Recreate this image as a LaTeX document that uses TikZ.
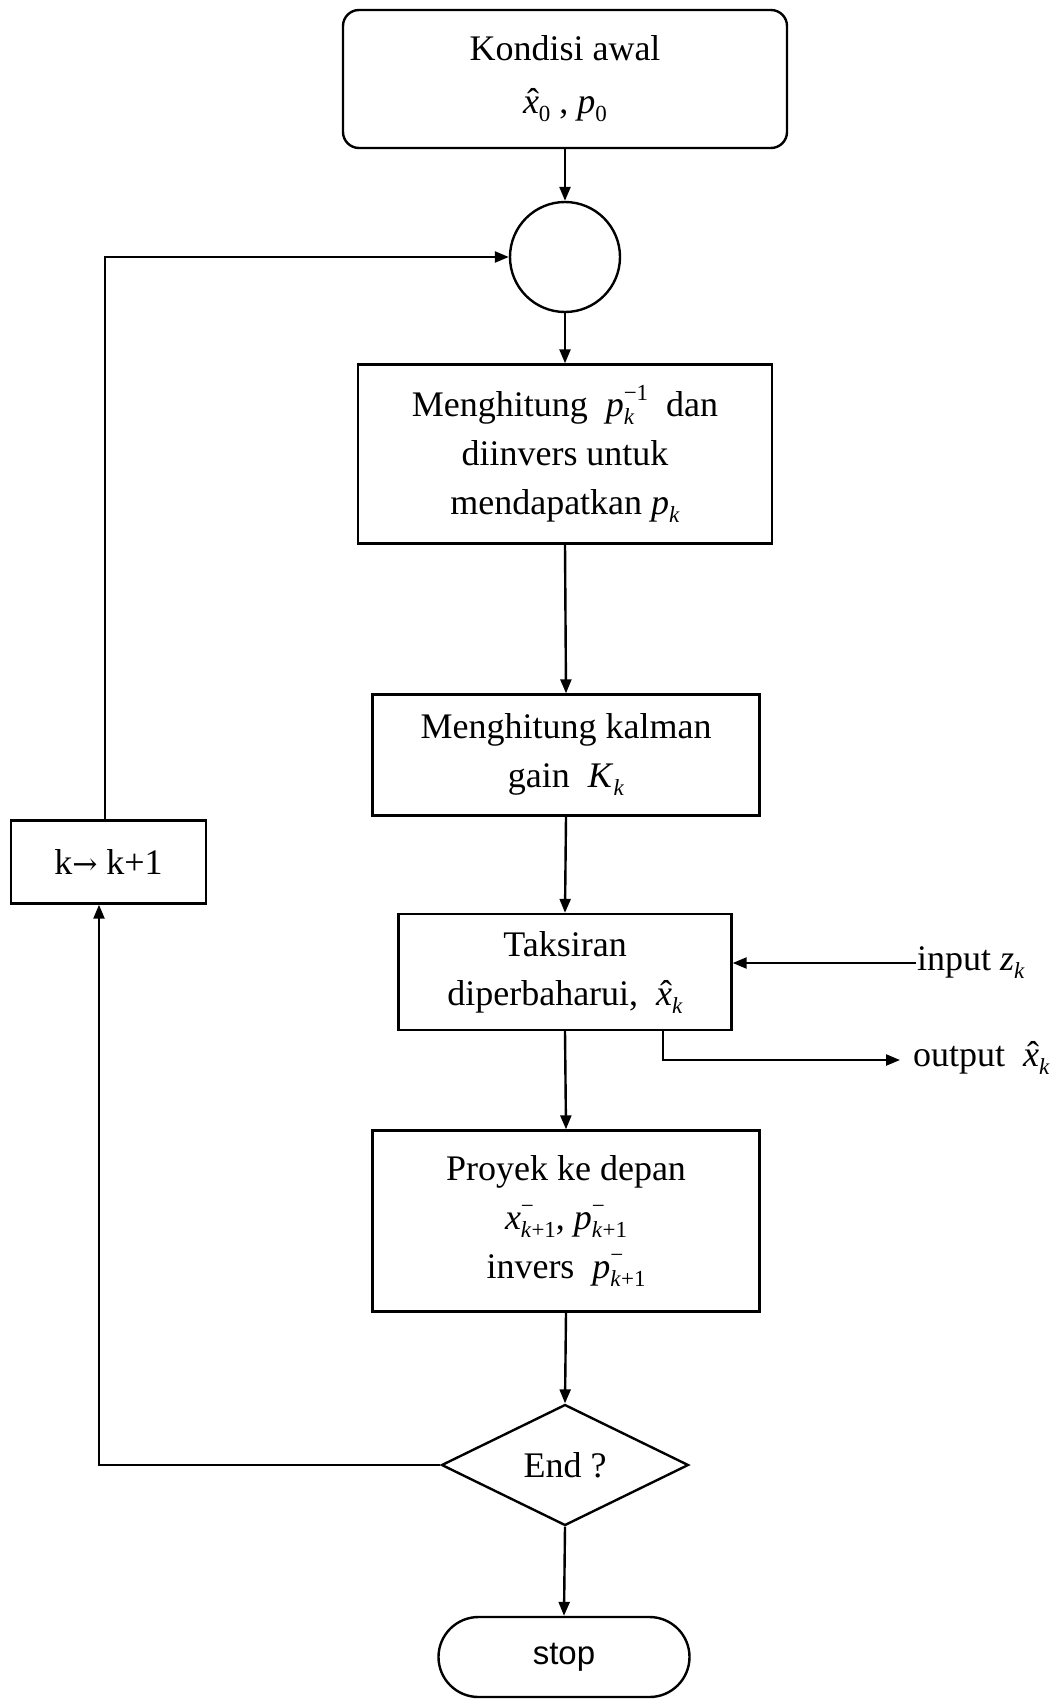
\documentclass[tikz,border=0pt]{standalone}
\usepackage{fontspec}
\setmainfont{Liberation Serif}
\newfontfamily\sansf{Liberation Sans}
\newfontfamily\dejav{DejaVu Serif}
\usetikzlibrary{shapes.geometric,shapes.misc,arrows.meta}
\newcommand{\ssz}{\fontsize{23}{23}\selectfont}
\newcommand{\Sb}[1]{\raisebox{-8pt}{\ssz #1}}
\newcommand{\Sp}[1]{\raisebox{16pt}{\ssz #1}}
\newcommand{\SbSp}[2]{\rlap{\Sp{#1}}\Sb{#2}}
\newcommand{\SpSb}[2]{\rlap{\Sb{#2}}\Sp{#1}}
\newcommand{\mn}{\char"2212\relax}
\newcommand{\xh}{\ooalign{\textit{x}\cr\hidewidth\kern4pt\char"02C6\relax\hidewidth\cr}}
\begin{document}
\begin{tikzpicture}[x=1pt,y=-1pt,line width=2.4pt,
  txt/.style={font=\fontsize{36}{49}\selectfont},
  box/.style={draw,rectangle,align=center,inner sep=0pt,txt},
  arr/.style={-{Triangle[length=14pt,width=11pt]}}]
\useasboundingbox (0,0) rectangle (1058,1699);
\node[box,rounded corners=16pt,minimum width=444pt,minimum height=138pt] (start) at (565,79)
  {Kondisi awal\\[4pt]\xh\Sb{0} , \textit{p}\Sb{0}};
\node[draw,circle,minimum size=110pt,inner sep=0pt] (circ) at (565,257) {};
\node[box,minimum width=414pt,minimum height=179pt] (b2) at (565,454)
  {Menghitung \ \textit{p}\SpSb{\mn1}{\textit{k}} \ dan\\diinvers untuk\\mendapatkan \textit{p}\Sb{\textit{k}}};
\node[box,minimum width=387pt,minimum height=121pt] (b3) at (566,755)
  {Menghitung kalman\\gain \ \textit{K}\Sb{\textit{k}}};
\node[box,minimum width=333pt,minimum height=116pt] (b4) at (565,972)
  {Taksiran\\diperbaharui, \ \xh\Sb{\textit{k}}};
\node[box,minimum width=387pt,minimum height=181pt] (b5) at (566,1221)
  {Proyek ke depan\\\textit{x}\SbSp{\mn}{\textit{k}+1}, \textit{p}\SbSp{\mn}{\textit{k}+1}\\invers \ \textit{p}\SbSp{\mn}{\textit{k}+1}};
\node[draw,diamond,minimum width=247pt,minimum height=121pt,inner sep=0pt,txt] (dia) at (565,1465) {End ?};
\node[draw,rounded rectangle,minimum width=251pt,minimum height=80pt,inner sep=0pt,
  font=\sansf\fontsize{33}{40}\selectfont] (stop) at (564,1657) {stop};
\node[box,minimum width=195pt,minimum height=83pt] (kbox) at (108.5,862)
  {k{\dejav\fontsize{30}{30}\selectfont →} k+1};
\node[txt,anchor=west,inner sep=0pt] (inp) at (916,963) {input \textit{z}\Sb{\textit{k}}};
\node[txt,anchor=west,inner sep=0pt] (outp) at (912,1060) {output \ \xh\Sb{\textit{k}}};
\coordinate (outc) at (900,1060);
\draw[arr] (start.south) -- (circ.north);
\draw[arr] (circ.south) -- (b2.north);
\draw[arr] (b2.south) -- (b3.north);
\draw[arr] (b3.south) -- (b4.north);
\draw[arr] (b4.south) -- (b5.north);
\draw[arr] (b5.south) -- (dia.north);
\draw[arr] (dia.south) -- (stop.north);
\draw[arr] (inp.west) -- (b4.east |- inp.west);
\draw[arr] ([xshift=98pt]b4.south) |- (outc);
\draw[arr] (dia.west) -| ([xshift=-9.5pt]kbox.south);
\draw[arr] ([xshift=-3.5pt]kbox.north) |- (circ.west);
\end{tikzpicture}
\end{document}
